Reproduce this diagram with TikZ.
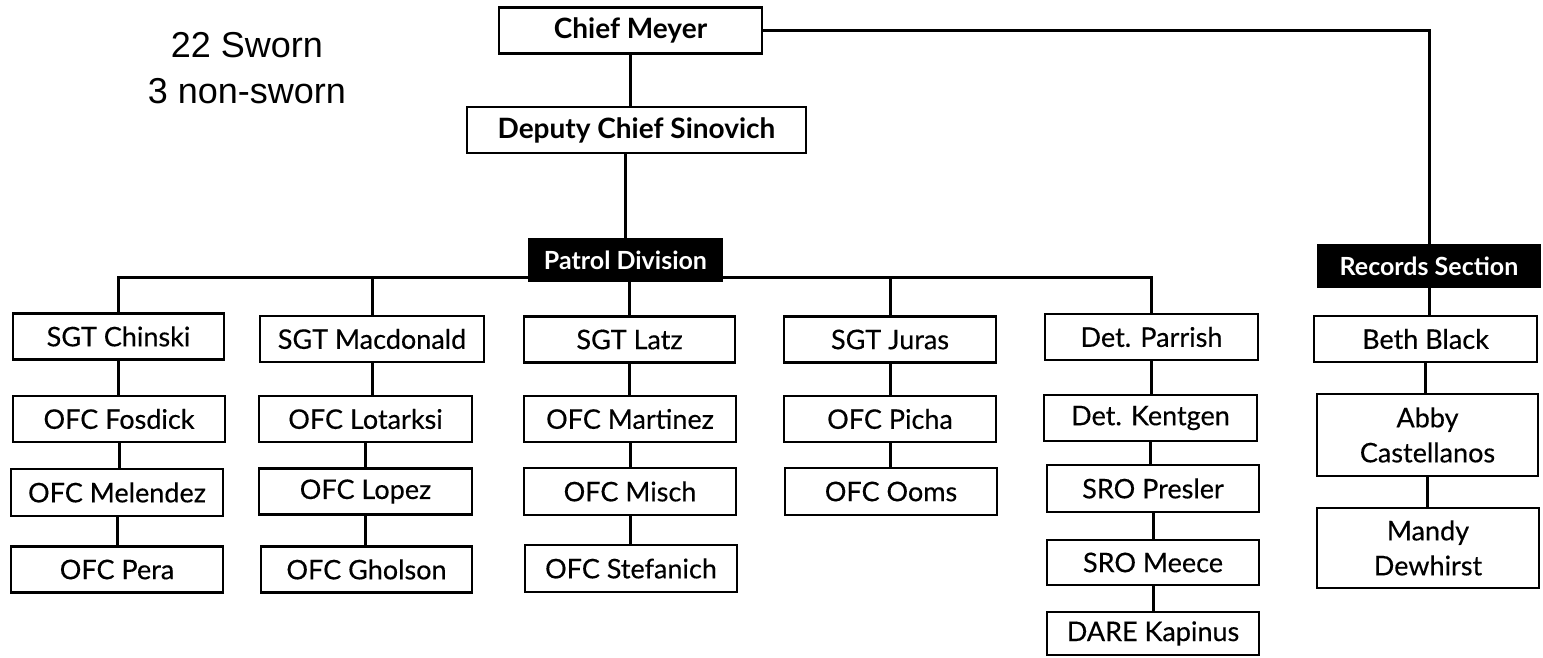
\documentclass[tikz,border=0pt]{standalone}
\usepackage{fontspec}
\setmainfont{Lato}
\newfontfamily\boxfont{Lato}[FakeBold=0.35]
\newfontfamily\countfont{Liberation Sans}
\usetikzlibrary{backgrounds}

\tikzset{
  box/.style={draw,line width=2.2pt,fill=white,inner sep=0pt,minimum height=46pt,
    align=center,font=\boxfont\fontsize{27}{35}\selectfont},
  topbox/.style={box,font=\fontsize{28}{30}\selectfont\bfseries},
  headbox/.style={fill=black,text=white,inner sep=0pt,minimum height=44pt,
    font=\fontsize{25}{30}\selectfont\bfseries},
  link/.style={line width=3pt}
}

\begin{document}
\begin{tikzpicture}[x=1pt,y=-1pt]
    \useasboundingbox (0,0) rectangle (1543,658);
    \node[align=center,font=\countfont\fontsize{36}{46}\selectfont] (staff) at (247,68) {22 Sworn\\3 non-sworn};
    \node[topbox,minimum width=263pt] (chief) at (630.5,30.5) {Chief Meyer};
    \node[topbox,minimum width=339pt] (deputy) at (636.5,130) {Deputy Chief Sinovich};
    \node[headbox,minimum width=195pt] (patrol) at (625.5,260) {Patrol Division};
    \node[headbox,minimum width=224pt] (records) at (1429,266) {Records Section};
    \coordinate (bar) at (0,277);
    \node[box,minimum width=211pt] (chinski) at (118.5,336.5) {SGT Chinski};
    \node[box,minimum width=212pt] (fosdick) at (119,419) {OFC Fosdick};
    \node[box,minimum width=212pt,minimum height=47pt] (melendez) at (117,492.5) {OFC Melendez};
    \node[box,minimum width=212pt] (pera) at (117,569.5) {OFC Pera};
    \node[box,minimum width=224pt] (macdonald) at (372,339) {SGT Macdonald};
    \node[box,minimum width=213pt] (lotarksi) at (365.5,419) {OFC Lotarksi};
    \node[box,minimum width=213pt] (lopez) at (365.5,491.5) {OFC Lopez};
    \node[box,minimum width=211pt] (gholson) at (366.5,569.5) {OFC Gholson};
    \node[box,minimum width=211pt] (latz) at (629.5,339.5) {SGT Latz};
    \node[box,minimum width=212pt] (martinez) at (630,419) {OFC Martinez};
    \node[box,minimum width=212pt,minimum height=47pt] (misch) at (630,491.5) {OFC Misch};
    \node[box,minimum width=212pt,minimum height=47pt] (stefanich) at (631,568.5) {OFC Stefanich};
    \node[box,minimum width=212pt] (juras) at (890,339.5) {SGT Juras};
    \node[box,minimum width=212pt] (picha) at (890,419) {OFC Picha};
    \node[box,minimum width=212pt,minimum height=47pt] (ooms) at (891,491.5) {OFC Ooms};
    \node[box,minimum width=213pt] (parrish) at (1151.5,337) {Det. Parrish};
    \node[box,minimum width=213pt] (kentgen) at (1150.5,418) {Det. Kentgen};
    \node[box,minimum width=212pt,minimum height=47pt] (presler) at (1153,488.5) {SRO Presler};
    \node[box,minimum width=212pt,minimum height=45pt] (meece) at (1153,562.5) {SRO Meece};
    \node[box,minimum width=212pt,minimum height=43pt] (kapinus) at (1153,633.5) {DARE Kapinus};
    \node[box,minimum width=223pt] (beth) at (1425.5,339) {Beth Black};
    \node[box,minimum width=221pt,minimum height=82pt] (abby) at (1427.5,435) {Abby\\Castellanos};
    \node[box,minimum width=222pt,minimum height=80pt] (mandy) at (1428,548) {Mandy\\Dewhirst};
    \begin{pgfonlayer}{background}
    \draw[link] (chief.south) -- (chief.south |- deputy.north);
    \draw[link] (patrol.north |- deputy.south) -- (patrol.north);
    \draw[link] (chief.east) -| (records.north);
    \draw[link] (chinski.north) -- (chinski.north |- bar) -- (parrish.north |- bar) -- (parrish.north);
    \foreach\n in{macdonald,latz,juras}
    \draw[link] (\n.north) -- (\n.north |- bar);
    \draw[link] (records.south) -- (records.south |- beth.north);
    \foreach\a/\b in{chinski/fosdick,fosdick/melendez,melendez/pera,
      macdonald/lotarksi,lotarksi/lopez,lopez/gholson,
      latz/martinez,martinez/misch,misch/stefanich,juras/picha,picha/ooms,
      parrish/kentgen,kentgen/presler,presler/meece,meece/kapinus,
      beth/abby,abby/mandy}
    \draw[link] (\a.south) -- (\a.south |- \b.north);
    \end{pgfonlayer}
\end{tikzpicture}
\end{document}
